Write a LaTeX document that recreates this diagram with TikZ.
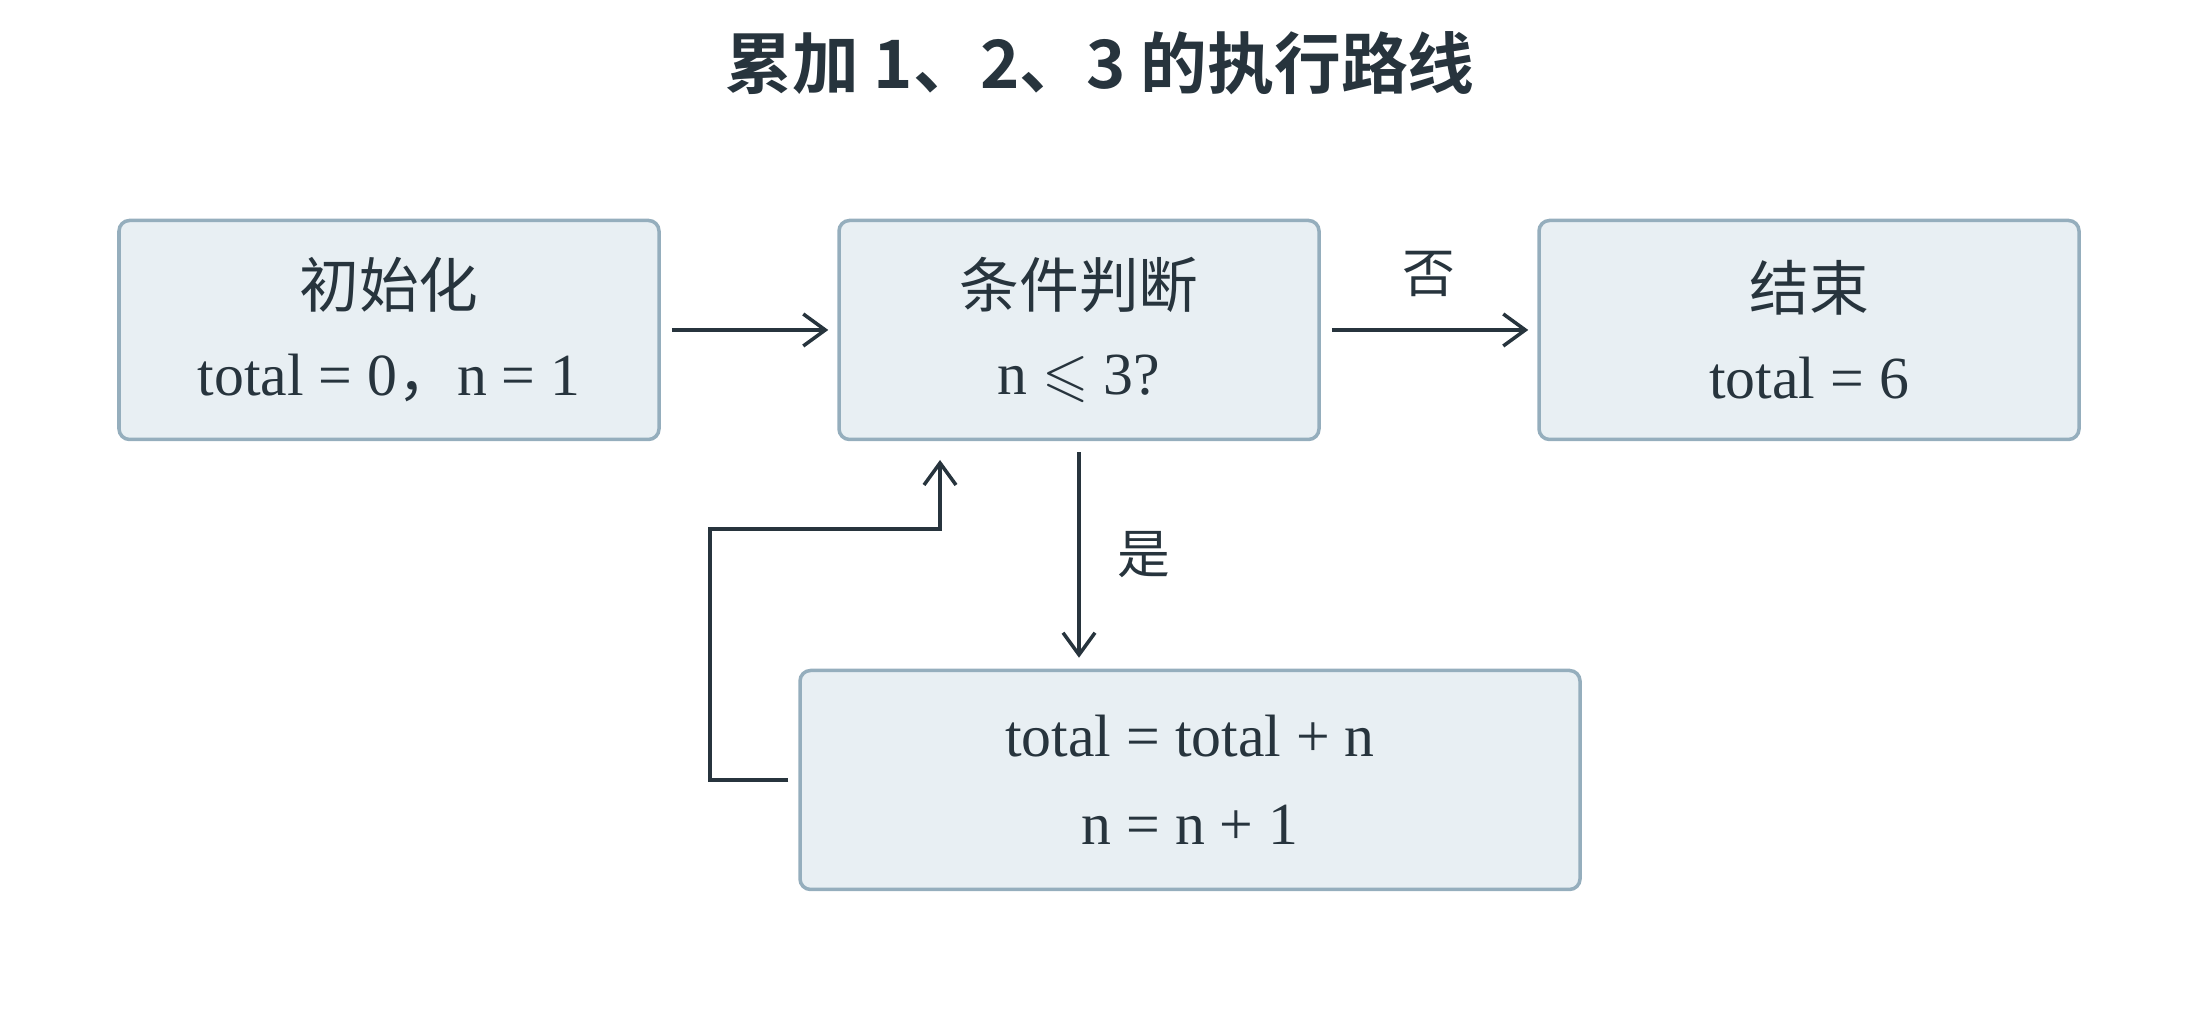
\documentclass[tikz,border=0pt]{standalone}
\usepackage{amssymb}
\usepackage{fontspec}
\setmainfont{Liberation Serif}
\newfontfamily\cjk{Noto Sans CJK SC}
\newfontfamily\cjkbold{Noto Sans CJK SC Bold}
\usetikzlibrary{positioning,arrows.meta}
\definecolor{boxfill}{HTML}{E8EFF3}
\definecolor{boxline}{HTML}{95AEBD}
\definecolor{ink}{HTML}{27343D}
\tikzset{
    stage/.style = {draw=boxline, fill=boxfill, line width=1pt, rounded corners=3pt,
        minimum height=2.19cm, align=center, text=ink, font=\fontsize{17}{25}\selectfont},
    flow/.style = {-{Straight Barb[length=2.2mm,width=3.2mm]}, draw=ink, line width=1pt},
    note/.style = {text=ink, font=\cjk\fontsize{15}{18}\selectfont}
}
\begin{document}
\begin{tikzpicture}
    \useasboundingbox (0,0) rectangle (22,10.2);

    \node[text=ink, font=\cjkbold\fontsize{19}{22}\selectfont] (title) at (11,9.57) {累加 1、2、3 的执行路线};

    \node[stage, minimum width=5.40cm] (init) at (3.89,6.90) {{\cjk 初始化}\\total = 0{\cjk ，}n = 1};
    \node[stage, minimum width=4.80cm] (cond) at (10.79,6.90) {{\cjk 条件判断}\\n $\leqslant$ 3?};
    \node[stage, minimum width=5.40cm] (stop) at (18.09,6.90) {{\cjk 结束}\\total = 6};
    \node[stage, minimum width=7.80cm] (upd) at (11.90,2.40) {total = total + n\\n = n + 1};

    \coordinate (c1) at (7.10,2.40);
    \coordinate (c2) at (7.10,4.91);
    \coordinate (c3) at (9.40,4.91);
    \coordinate (c4) at (9.40,5.70);

    \draw[flow, shorten <=0.11cm, shorten >=0.09cm] (init) -- (cond);
    \draw[flow, shorten <=0.11cm, shorten >=0.09cm] (cond) -- node[note, above=0.2cm] {否} (stop);
    \draw[flow, shorten <=0.11cm, shorten >=0.11cm] (cond) -- node[note, right=0.25cm] {是} (cond |- upd.north);
    \draw[flow, shorten <=0.1cm, shorten >=0.1cm] (upd.west) -- (c1) -- (c2) -- (c3) -- (c4);
\end{tikzpicture}
\end{document}
